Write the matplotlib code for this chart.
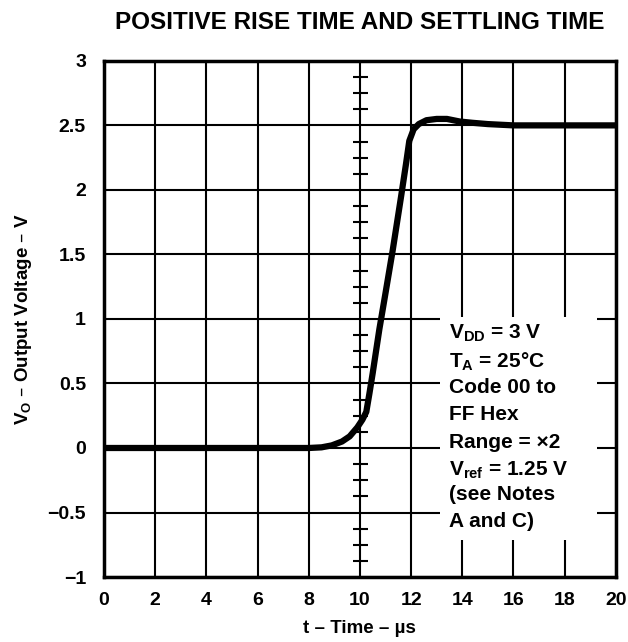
import numpy as np
import matplotlib.pyplot as plt
from matplotlib.patches import Rectangle

plt.rcParams['font.family'] = ['Liberation Sans', 'DejaVu Sans']
plt.rcParams['font.weight'] = 'bold'
plt.rcParams['mathtext.default'] = 'regular'

# --- data ---
time_us = [0, 8.0, 8.5, 8.9, 9.3, 9.6, 9.9, 10.1, 10.25, 10.37, 10.5, 10.76,
           11.0, 11.28, 11.61, 11.8, 11.93, 12.1, 12.3, 12.6, 13.0, 13.4,
           13.9, 14.4, 15.0, 16.0, 20.0]
vout = [0, 0, 0.005, 0.02, 0.05, 0.09, 0.16, 0.22, 0.28, 0.42, 0.58, 0.92,
        1.2, 1.53, 1.95, 2.2, 2.38, 2.47, 2.51, 2.54, 2.55, 2.55,
        2.53, 2.52, 2.51, 2.50, 2.50]

x_ticks = [0, 2, 4, 6, 8, 10, 12, 14, 16, 18, 20]
y_ticks = [-1, -0.5, 0, 0.5, 1, 1.5, 2, 2.5, 3]
y_labels = ['\u22121', '\u22120.5', '0', '0.5', '1', '1.5', '2', '2.5', '3']

notes = ['V$_{DD}$ = 3 V', 'T$_{A}$ = 25\u00b0C', 'Code 00 to', 'FF Hex',
         'Range = \u00d72', 'V$_{ref}$ = 1.25 V', '(see Notes', 'A and C)']
note_y = [0.89, 0.67, 0.47, 0.26, 0.04, -0.17, -0.36, -0.57]

fig = plt.figure(figsize=(6.28, 6.42), dpi=100)
ax = fig.add_axes([0.1656, 0.1012, 0.815, 0.804])

ax.set_xlim(0, 20)
ax.set_ylim(-1, 3)
ax.set_xticks(x_ticks)
ax.set_yticks(y_ticks)
ax.set_yticklabels(y_labels)
ax.tick_params(length=0, labelsize=14, pad=13)
ax.tick_params(axis='x', pad=11)
for lab in ax.get_xticklabels() + ax.get_yticklabels():
    lab.set_fontweight('bold')
ax.grid(True, color='black', lw=1.5)
for sp in ax.spines.values():
    sp.set_linewidth(2.5)

# graticule minor ticks on the centre line
minor = [v for v in np.arange(-1, 3, 0.125) if abs(v * 2 - round(v * 2)) > 1e-6]
ax.hlines(minor, 9.72, 10.3, color='black', lw=1.5)

# white patch behind the notes
ax.add_patch(Rectangle((13.12, -0.713), 6.14, 1.728, facecolor='white',
                       edgecolor='none', zorder=2.5))

ax.plot(time_us, vout, color='black', lw=4.5, solid_capstyle='round', zorder=3)

for txt, yy in zip(notes, note_y):
    ax.text(13.5, yy, txt, fontsize=15, fontweight='bold', va='center',
            ha='left', zorder=4)

ax.set_title('POSITIVE RISE TIME AND SETTLING TIME', fontsize=17.5,
             fontweight='bold', pad=23)
ax.set_xlabel('t \u2013 Time \u2013 \u00b5s', fontsize=13.5, fontweight='bold', labelpad=8)
ax.set_ylabel('V$_{O}$ \u2013 Output Voltage \u2013 V', fontsize=13.5, fontweight='bold', labelpad=10)

fig.savefig('out.png', dpi=100)
